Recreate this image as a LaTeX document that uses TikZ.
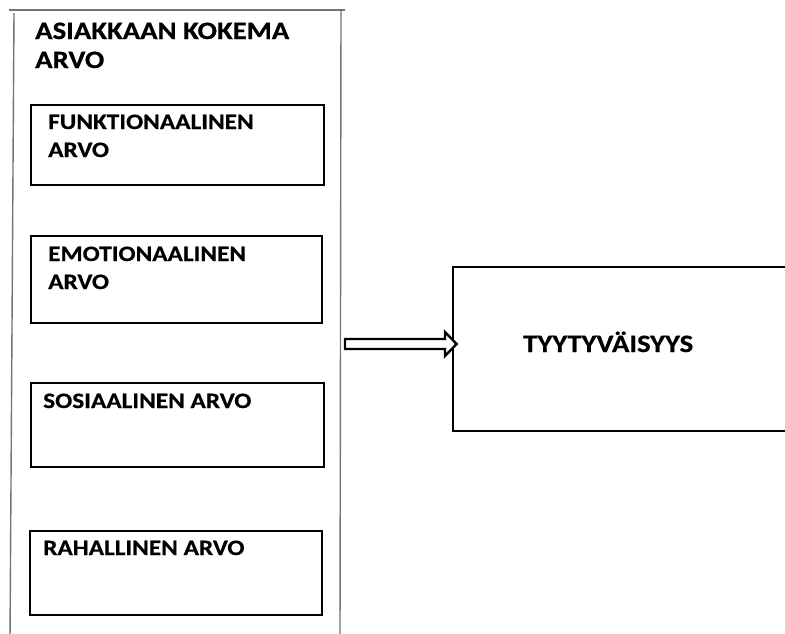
\documentclass[tikz,border=0pt]{standalone}
\usepackage{fontspec}
\setmainfont{Carlito}[FakeStretch=1.15, BoldFeatures={FakeBold=0.6}]
\usetikzlibrary{calc}
\begin{document}
\begin{tikzpicture}[x=1pt,y=-1pt,
  frame/.style={draw=black!55, line width=1.4pt},
  valbox/.style={draw=black, line width=2.8pt, inner sep=0pt},
  lbl/.style={anchor=base west, inner sep=0pt, font=\bfseries\fontsize{22}{28}\selectfont},
  biglbl/.style={anchor=base west, inner sep=0pt, font=\bfseries\fontsize{25}{29}\selectfont},
  hollow/.style={draw=black, fill=white, line width=2.4pt, line join=miter}
]
\useasboundingbox (0,0) rectangle (785,633);

% outer frame of the customer value group (open at the bottom)
\coordinate (ftl) at (14,13);
\coordinate (fbl) at (10,640);
\coordinate (ftr) at (341,10);
\coordinate (fbr) at (340,640);
\draw[frame] (9,10) -- (345,10);
\draw[frame] (ftl) -- (fbl);
\draw[frame] (ftr) -- (fbr);
\node[biglbl] (title) at (35,39) {\begin{tabular}[t]{@{}l@{}}ASIAKKAAN KOKEMA\\ARVO\end{tabular}};

% value dimensions
\node[valbox, minimum width=293pt, minimum height=80pt] (b1) at (177.5,145) {};
\node[valbox, minimum width=291pt, minimum height=87pt] (b2) at (176.5,279.5) {};
\node[valbox, minimum width=293pt, minimum height=84pt] (b3) at (177.5,425) {};
\node[valbox, minimum width=292pt, minimum height=84pt] (b4) at (176,573) {};

\node[lbl] (t1) at (48,129) {\begin{tabular}[t]{@{}l@{}}FUNKTIONAALINEN\\ARVO\end{tabular}};
\node[lbl] (t2) at (48,261) {\begin{tabular}[t]{@{}l@{}}EMOTIONAALINEN\\ARVO\end{tabular}};
\node[lbl] (t3) at (43,408) {SOSIAALINEN ARVO};
\node[lbl] (t4) at (43,555) {RAHALLINEN ARVO};

% satisfaction box (runs past the right edge)
\node[valbox, minimum width=600pt, minimum height=164pt] (sat) at (753,349) {};
\node[biglbl] (satl) at (523,352) {TYYTYVÄISYYS};

% hollow block arrow from the value group to satisfaction
\coordinate (as) at (345,344);
\coordinate (ae) at ($(sat.west |- as)+(5,0)$);
\draw[hollow] ($(as)+(0,-5)$) -- (445,339) -- (445,332) -- (ae) -- (445,356)
  -- (445,349) -- ($(as)+(0,5)$) -- cycle;
\end{tikzpicture}
\end{document}
